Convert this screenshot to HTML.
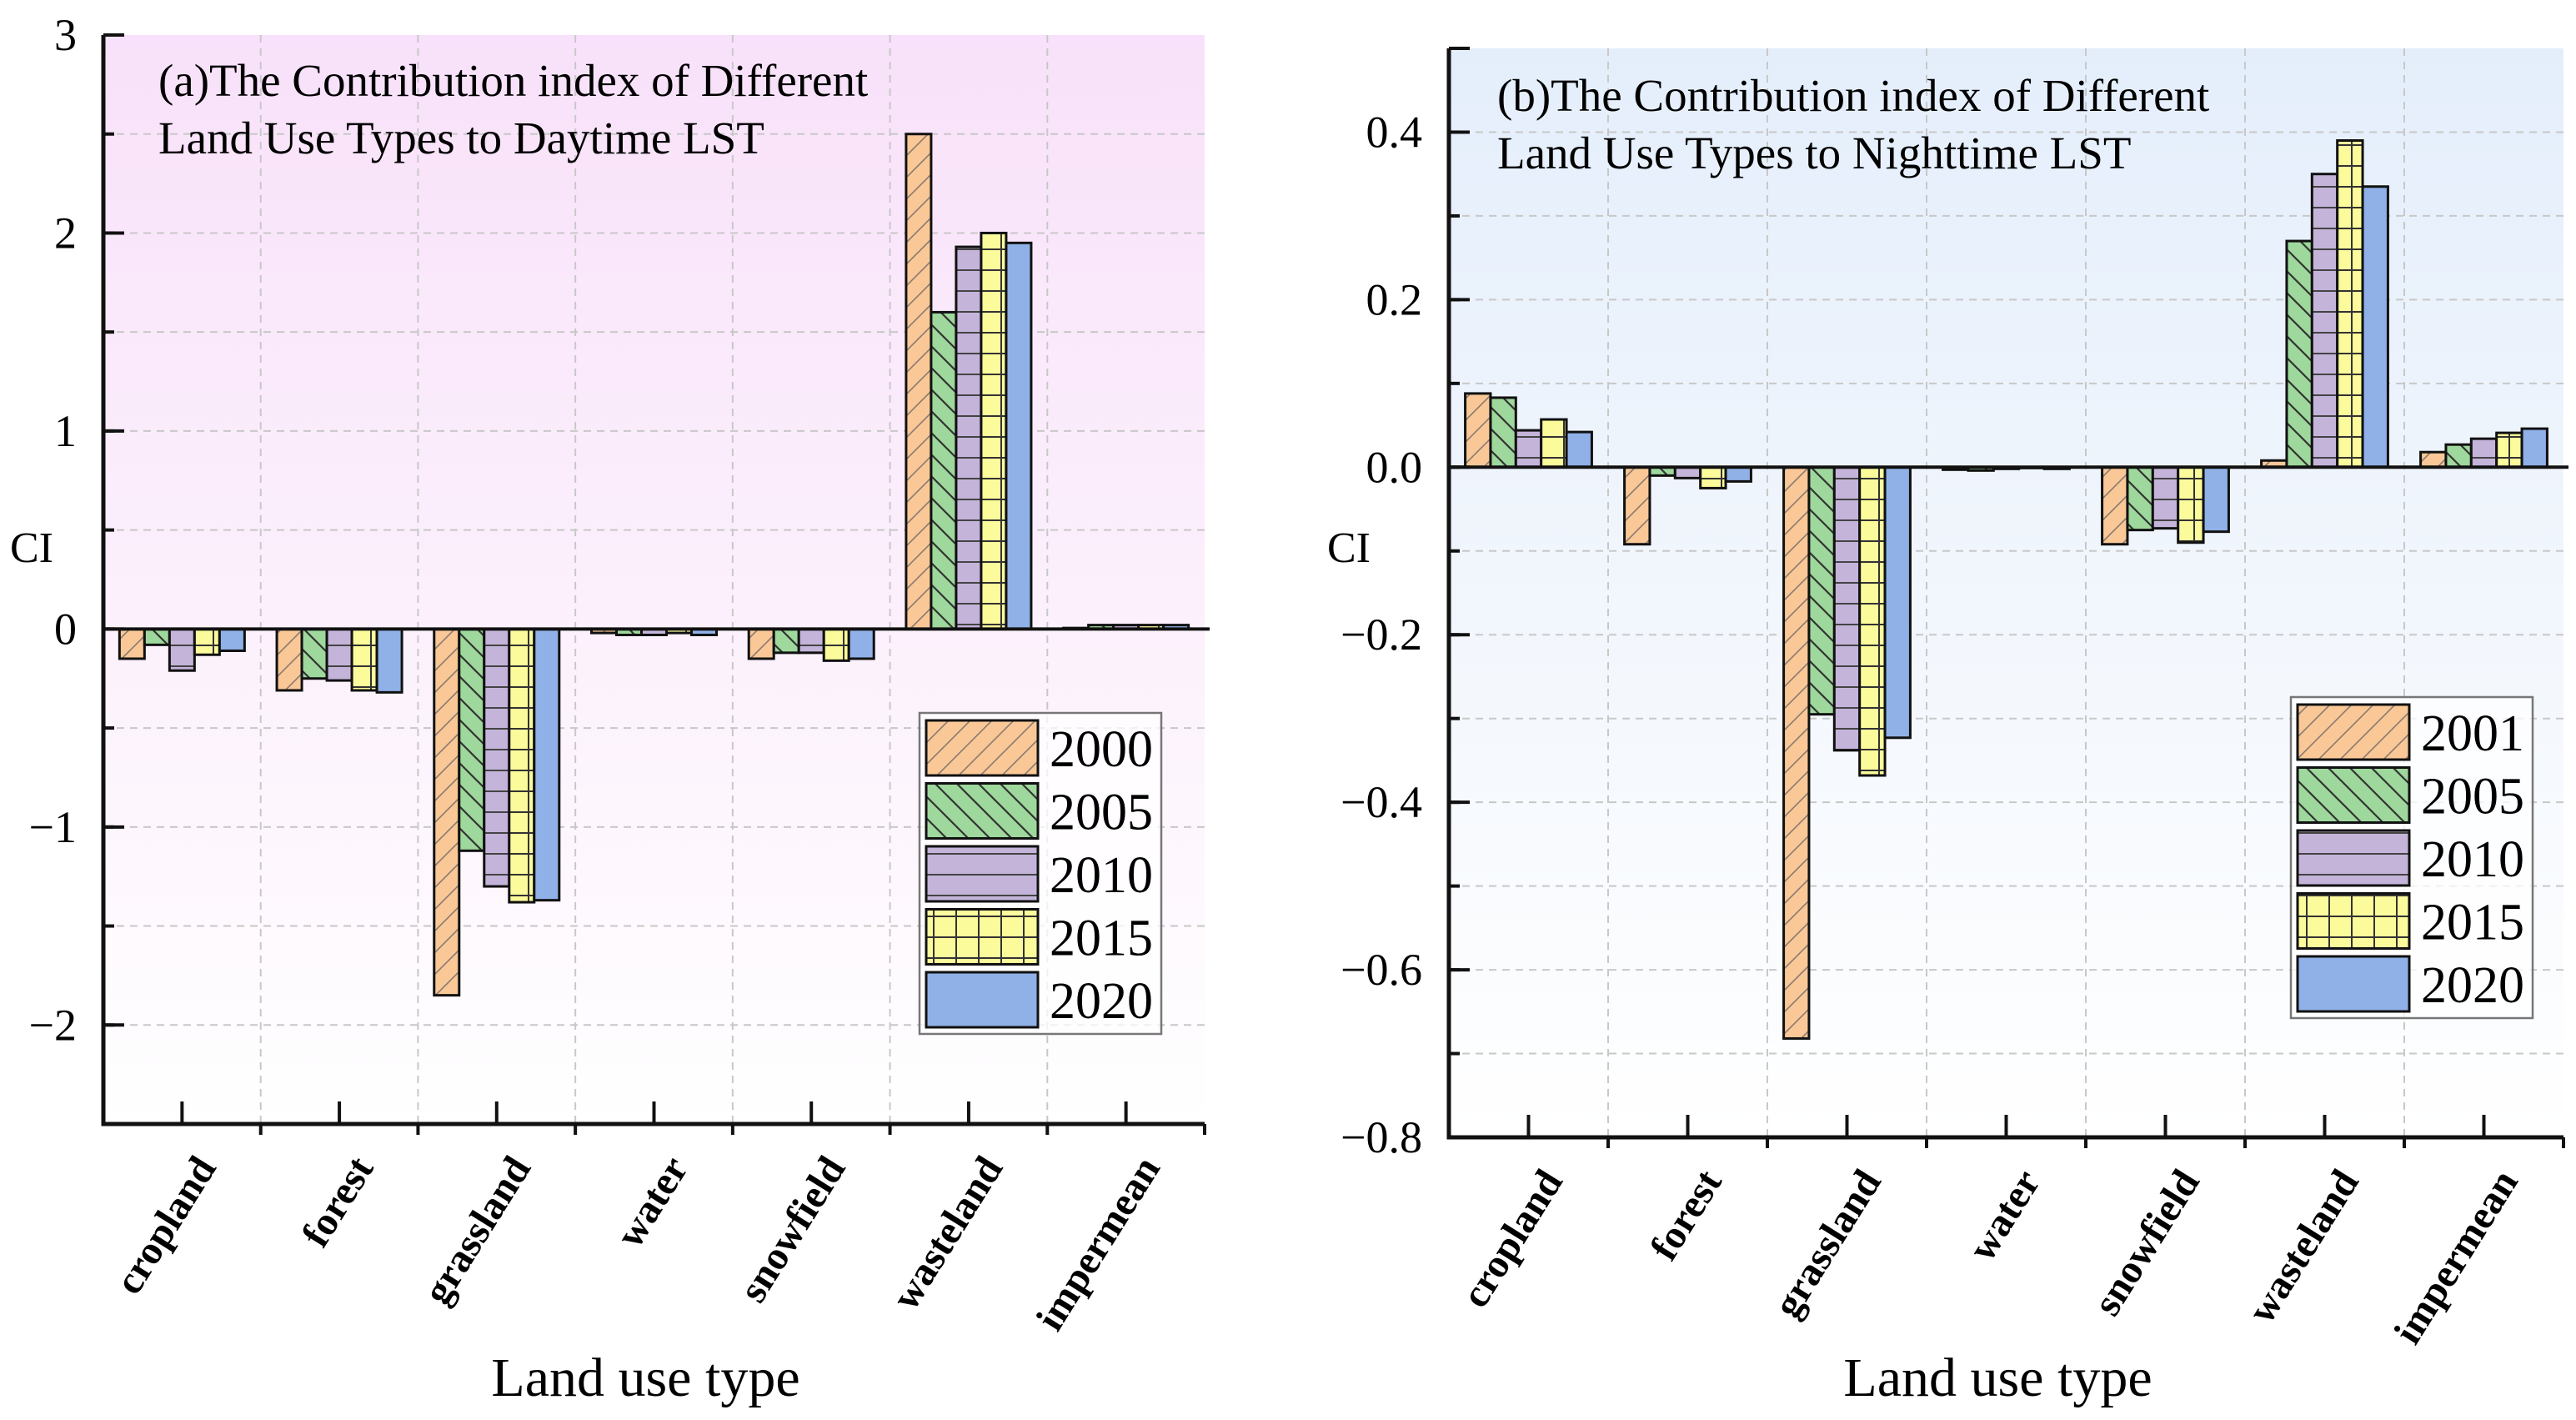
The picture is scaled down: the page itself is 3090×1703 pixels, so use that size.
<!DOCTYPE html>
<html><head><meta charset="utf-8"><style>
html,body{margin:0;padding:0;background:#fff}
svg{display:block}
text,tspan{font-family:"Liberation Serif","DejaVu Serif",serif;fill:#000}
</style></head><body>
<svg id="s" width="3090" height="1703" viewBox="0 0 3090 1703" xmlns="http://www.w3.org/2000/svg" font-family="Liberation Serif, serif">
<defs>
<linearGradient id="bgA" x1="0" y1="0" x2="0" y2="1"><stop offset="0" stop-color="#f8e1fa"/><stop offset="0.55" stop-color="#fcf1fc"/><stop offset="1" stop-color="#ffffff"/></linearGradient>
<linearGradient id="bgB" x1="0" y1="0" x2="0" y2="1"><stop offset="0" stop-color="#e4eefb"/><stop offset="0.55" stop-color="#f3f7fd"/><stop offset="1" stop-color="#ffffff"/></linearGradient>
<pattern id="p0" patternUnits="userSpaceOnUse" width="26" height="26"><rect width="26" height="26" fill="#f9c896"/><path d="M-6,32 L32,-6 M-19,19 L19,-19 M7,45 L45,7" stroke="#8a7a70" stroke-width="1.6"/></pattern>
<pattern id="p1" patternUnits="userSpaceOnUse" width="26" height="26"><rect width="26" height="26" fill="#9ed89c"/><path d="M-6,-6 L32,32 M7,-19 L45,19 M-19,7 L19,45" stroke="#333" stroke-width="2.2"/></pattern>
<pattern id="p2" patternUnits="userSpaceOnUse" width="26" height="25"><rect width="26" height="25" fill="#c4b4da"/><path d="M0,24 L26,24" stroke="#444" stroke-width="2"/></pattern>
<pattern id="p3" patternUnits="userSpaceOnUse" width="27" height="25"><rect width="27" height="25" fill="#fbfb9c"/><path d="M0,24 L27,24 M13,0 L13,25" stroke="#333" stroke-width="2"/></pattern>
<pattern id="p4" patternUnits="userSpaceOnUse" width="10" height="10"><rect width="10" height="10" fill="#8fb1e8"/></pattern>
</defs>
</svg>
<script>
const categories = ["cropland","forest","grassland","water","snowfield","wasteland","impermean"];
const yearsA = ["2000","2005","2010","2015","2020"];
const yearsB = ["2001","2005","2010","2015","2020"];
const seriesA0 = [-0.15,-0.31,-1.85,-0.02,-0.15,2.50,0.005];
const seriesA1 = [-0.08,-0.25,-1.12,-0.03,-0.12,1.60,0.02];
const seriesA2 = [-0.21,-0.26,-1.30,-0.03,-0.12,1.93,0.02];
const seriesA3 = [-0.13,-0.31,-1.38,-0.02,-0.16,2.00,0.02];
const seriesA4 = [-0.11,-0.32,-1.37,-0.03,-0.15,1.95,0.02];
const seriesB0 = [0.088,-0.092,-0.682,-0.003,-0.092,0.008,0.018];
const seriesB1 = [0.083,-0.010,-0.295,-0.004,-0.075,0.270,0.027];
const seriesB2 = [0.044,-0.013,-0.338,-0.002,-0.073,0.350,0.034];
const seriesB3 = [0.057,-0.025,-0.368,-0.001,-0.090,0.390,0.041];
const seriesB4 = [0.042,-0.017,-0.323,-0.002,-0.077,0.335,0.046];
const ticksA = [-2,-1,0,1,2,3];
const tickLabelsA = ["\u22122","\u22121","0","1","2","3"];
const ticksB = [-0.8,-0.6,-0.4,-0.2,0,0.2,0.4];
const tickLabelsB = ["\u22120.8","\u22120.6","\u22120.4","\u22120.2","0.0","0.2","0.4"];

const NS="http://www.w3.org/2000/svg", svg=document.getElementById('s');
const FF='"Liberation Serif", serif';
function mk(tag,at,parent){const e=document.createElementNS(NS,tag);for(const k in at)e.setAttribute(k,at[k]);if(tag==='text')e.setAttribute('font-family',FF);(parent||svg).appendChild(e);return e;}

function chart(cfg){
  const g=mk('g',{});
  
  
  const {x0,x1,yTop,yBot,vmin,vmax}=cfg;
  const Y=v=>yBot-(v-vmin)/(vmax-vmin)*(yBot-yTop);
  const cw=(x1-x0)/categories.length;
  const X=i=>x0+cw*(i+0.5);
  const bg=mk('rect',{x:x0,y:yTop,width:x1-x0,height:yBot-yTop,fill:cfg.bg},g);
  
  
  for(let v=vmin+cfg.minor;v<vmax-1e-9;v+=cfg.minor){
    const l=mk('line',{x1:x0,x2:x1,y1:Y(v),y2:Y(v),stroke:'#c8c8c8','stroke-width':2,'stroke-dasharray':'9,7'},g);
    
    
  }
  for(let i=1;i<categories.length;i++){
    const l=mk('line',{x1:x0+cw*i,x2:x0+cw*i,y1:yTop,y2:yBot,stroke:'#c8c8c8','stroke-width':2,'stroke-dasharray':'9,7'},g);
    
    
  }
  const t=mk('text',{x:cfg.tx,y:cfg.ty,'font-size':55},g);
  
  
  mk('tspan',{x:cfg.tx,dy:0},t).textContent=cfg.title1;
  mk('tspan',{x:cfg.tx,dy:69},t).textContent=cfg.title2;
  const bw=cw*0.795/5;
  cfg.series.forEach((s,k)=>{
    s.forEach((v,i)=>{
      const bx=X(i)-bw*2.5+bw*k, y0=Y(0), yv=Y(v);
      const r=mk('rect',{x:bx,y:Math.min(y0,yv),width:bw,height:Math.max(Math.abs(yv-y0),0.5),fill:'url(#p'+k+')',stroke:'#111','stroke-width':3},g);
      
      
    });
  });
  const z=mk('line',{x1:x0,x2:x1+6,y1:Y(0),y2:Y(0),stroke:'#111','stroke-width':4},g);
  
  
  const ax=mk('path',{d:`M${x0},${yTop} L${x0},${yBot} L${x1},${yBot}`,fill:'none',stroke:'#111','stroke-width':5},g);
  
  
  mk('line',{x1:x0,x2:x0+25,y1:yTop,y2:yTop,stroke:'#111','stroke-width':4},g);
  mk('line',{x1:x1,x2:x1,y1:yBot,y2:yBot+13,stroke:'#111','stroke-width':4},g);
  for(let v=vmin+cfg.minor;v<vmax-1e-9;v+=cfg.minor){
    mk('line',{x1:x0,x2:x0+13,y1:Y(v),y2:Y(v),stroke:'#111','stroke-width':4},g);
  }
  cfg.ticks.forEach((v,i)=>{
    mk('line',{x1:x0,x2:x0+25,y1:Y(v),y2:Y(v),stroke:'#111','stroke-width':4},g);
    const tl=mk('text',{x:x0-32,y:Y(v)+18,'font-size':54,'text-anchor':'end'},g);
    
    
    tl.textContent=cfg.tickLabels[i];
  });
  categories.forEach((c,i)=>{
    mk('line',{x1:X(i),x2:X(i),y1:yBot,y2:yBot-27,stroke:'#111','stroke-width':4},g);
    if(i>0) mk('line',{x1:x0+cw*i,x2:x0+cw*i,y1:yBot,y2:yBot+13,stroke:'#111','stroke-width':4},g);
    const tl=mk('text',{x:X(i)+42,y:yBot+52,'font-size':48,'font-weight':'bold','text-anchor':'end',transform:`rotate(-58 ${X(i)+42} ${yBot+52})`},g);
    
    
    tl.textContent=c;
  });
  const yl=mk('text',{x:cfg.cix,y:674,'font-size':52},g);
  
  
  yl.textContent='CI';
  const xl=mk('text',{x:(x0+x1)/2-10,y:1674,'font-size':66,'text-anchor':'middle'},g);
  
  
  xl.textContent='Land use type';
  const L=cfg.leg;
  const lg=mk('g',{},g);
  
  
  mk('rect',{x:L.x,y:L.y,width:290,height:385,fill:'#ffffff','fill-opacity':0.75,stroke:'#777','stroke-width':2.5},lg);
  cfg.years.forEach((yr,k)=>{
    const sy=L.y+9+k*75.5;
    const sw=mk('rect',{x:L.x+8,y:sy,width:134,height:66,fill:'url(#p'+k+')',stroke:'#111','stroke-width':3},lg);
    
    
    const lt=mk('text',{x:L.x+156,y:sy+55,'font-size':62},lg);
    
    
    lt.textContent=yr;
  });
}
chart({name:'chart-daytime',x0:124,x1:1445,yTop:42,yBot:1348,vmin:-2.5,vmax:3,minor:0.5,bg:'url(#bgA)',
  series:[seriesA0,seriesA1,seriesA2,seriesA3,seriesA4],years:yearsA,ticks:ticksA,tickLabels:tickLabelsA,
  title1:'(a)The Contribution index of Different',title2:'Land Use Types to Daytime LST',tx:190,ty:115,cix:12,
  leg:{x:1103,y:855}});
chart({name:'chart-nighttime',x0:1738,x1:3075,yTop:58,yBot:1364,vmin:-0.8,vmax:0.5,minor:0.1,bg:'url(#bgB)',
  series:[seriesB0,seriesB1,seriesB2,seriesB3,seriesB4],years:yearsB,ticks:ticksB,tickLabels:tickLabelsB,
  title1:'(b)The Contribution index of Different',title2:'Land Use Types to Nighttime LST',tx:1796,ty:133,cix:1592,
  leg:{x:2748,y:836}});
</script>
</body></html>
